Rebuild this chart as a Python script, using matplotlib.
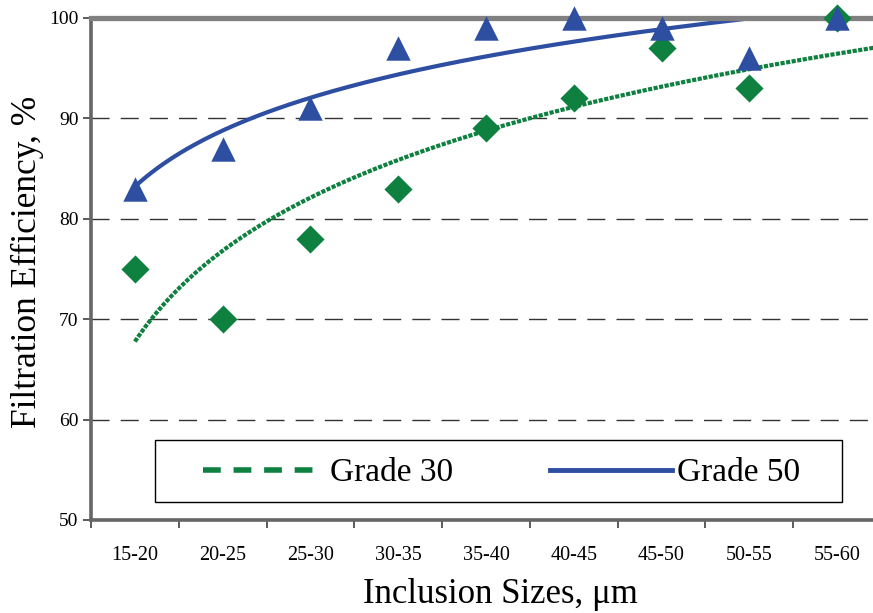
import numpy as np
import matplotlib
matplotlib.use("Agg")
import matplotlib.pyplot as plt
from matplotlib.lines import Line2D
from matplotlib.patches import Rectangle

plt.rcParams['font.family'] = ['Liberation Serif', 'DejaVu Serif']

categories = ["15-20", "20-25", "25-30", "30-35", "35-40", "40-45", "45-50", "50-55", "55-60"]
grade30 = [75, 70, 78, 83, 89, 92, 97, 93, 100]
grade50 = [83, 87, 91, 97, 99, 100, 99, 96, 100]
y_ticks = [50, 60, 70, 80, 90, 100]

green = "#0E8040"
blue = "#2E4EA2"

W, H = 873, 613
fig = plt.figure(figsize=(W / 100, H / 100), dpi=100)
ax_l, ax_r, ax_t, ax_b = 91, 881, 18, 520
ax = fig.add_axes([ax_l / W, 1 - ax_b / H, (ax_r - ax_l) / W, (ax_b - ax_t) / H])

x = np.arange(1, len(categories) + 1)

# logarithmic trend lines (least squares fit of y = a*ln(x) + b)
a30, b30 = np.polyfit(np.log(x), grade30, 1)
a50, b50 = np.polyfit(np.log(x), grade50, 1)
xs = np.linspace(1, len(categories) + 0.5, 400)
ax.plot(xs, a30 * np.log(xs) + b30, color=green, lw=3.0,
        linestyle=(0, (1.0, 0.35)), dash_capstyle='butt', zorder=3)
ax.plot(xs, a50 * np.log(xs) + b50, color=blue, lw=3.0, zorder=3)

ax.scatter(x, grade30, marker='D', s=205, color=green, zorder=6, clip_on=False, linewidths=0)
ax.scatter(x, grade50, marker='^', s=310, color=blue, zorder=7, clip_on=False, linewidths=0)

ax.set_xlim(0.5, len(categories) + 0.5)
ax.set_ylim(50, 100)
ax.set_yticks(y_ticks)
ax.set_yticklabels([str(v) for v in y_ticks], fontsize=14)
ax.set_xticks(np.arange(0.5, len(categories) + 1, 1))
ax.set_xticklabels([])
ax.set_xticks(x, minor=True)
ax.set_xticklabels(categories, minor=True, fontsize=14.5)
ax.tick_params(axis='x', which='minor', length=0, pad=18.5)
ax.tick_params(axis='x', which='major', length=6, width=1.2, color='#404040', direction='out')
ax.tick_params(axis='y', length=6, width=1.2, color='#404040', direction='out', pad=3)

for v in y_ticks[1:-1]:
    ax.axhline(v, color='#333333', lw=1.0, linestyle=(0, (13, 8)), zorder=1)

for s in ['left', 'bottom']:
    ax.spines[s].set_color('#666666')
    ax.spines[s].set_linewidth(2.6)
ax.spines['top'].set_color('#808080')
ax.spines['top'].set_linewidth(3.8)
ax.spines['right'].set_visible(False)
for s in ax.spines.values():
    s.set_zorder(5)

def fx(px):
    return (px - ax_l) / (ax_r - ax_l)

def fy(py):
    return (ax_b - py) / (ax_b - ax_t)

ax.set_ylabel("Filtration Efficiency, %", fontsize=25.5)
ax.yaxis.set_label_coords(fx(44), fy(262))
ax.set_xlabel("Inclusion Sizes, μm", fontsize=25)
ax.xaxis.set_label_coords(fx(500), fy(578))

# legend box
ax.add_patch(Rectangle((fx(155), fy(502)), fx(842) - fx(155), fy(440) - fy(502),
                       transform=ax.transAxes, facecolor='white', edgecolor='black',
                       lw=1.0, zorder=8))
handles = [Line2D([], [], color=green, lw=4, linestyle=(0, (3.2, 2.3))),
           Line2D([], [], color=blue, lw=3.5)]
fs = 24
fs_px = fs * 100 / 72
leg = ax.legend(handles, ["Grade 30", "Grade 50"], ncol=2,
                bbox_to_anchor=(fx(203), fy(473)), loc='center left',
                borderaxespad=0, borderpad=0, fontsize=fs,
                handlelength=122 / fs_px, handletextpad=5 / fs_px,
                columnspacing=97 / fs_px, frameon=False)
leg.set_zorder(9)

fig.savefig("out.png", dpi=100)
